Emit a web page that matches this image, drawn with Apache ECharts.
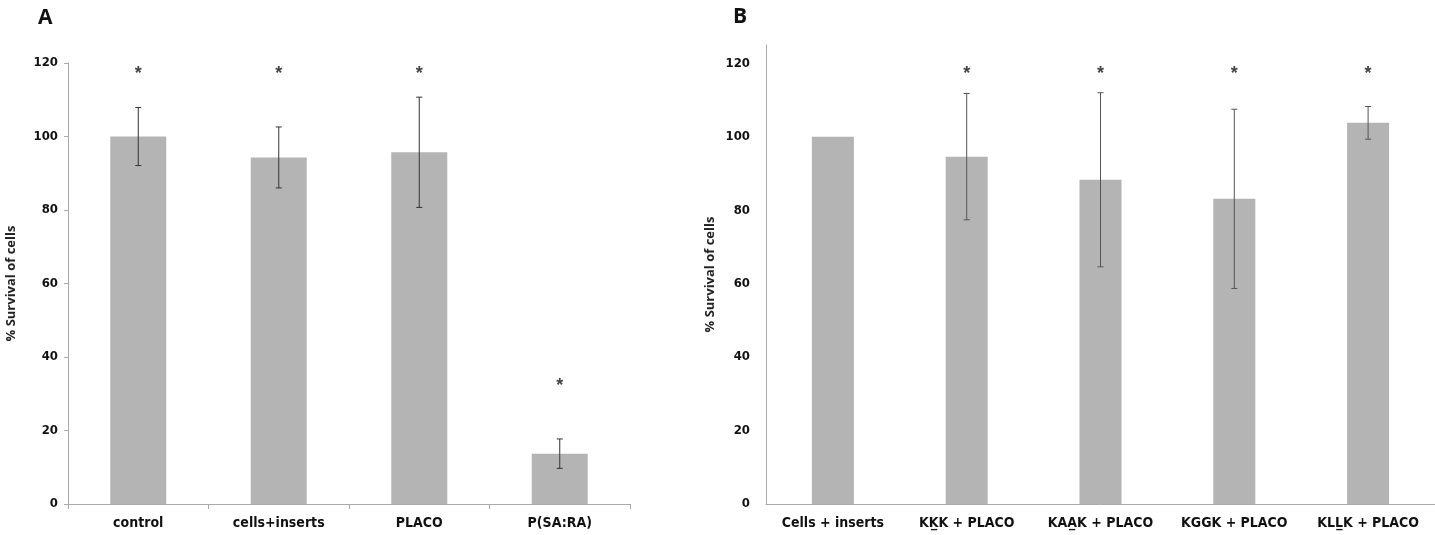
<!DOCTYPE html>
<html>
<head>
<meta charset="utf-8">
<script src="https://cdn.jsdelivr.net/npm/echarts@6/dist/echarts.min.js"></script>
<style>
  html, body { margin: 0; padding: 0; background: #fff; }
  #main { width: 1435px; height: 535px; }
</style>
</head>
<body>
<div id="main"></div>
<script>
// panel A
var catsA = ["control", "cells+inserts", "PLACO", "P(SA:RA)"];
var meanA = [100, 94.3, 95.7, 13.7];
var errA = [7.9, 8.3, 15, 4];
var starA = [117, 117, 117, 32];

// panel B
var catsB = ["Cells + inserts", "KK\u0332K + PLACO", "KAA\u0332K + PLACO", "KGGK + PLACO", "KLL\u0332K + PLACO"];
var meanB = [100, 94.6, 88.3, 83.1, 103.8];
var errB = [null, 17.2, 23.7, 24.4, 4.45];
var starB = [null, 117, 117, 117, 117];

var yTicks = [0, 20, 40, 60, 80, 100, 120];

var labelFont = "'Liberation Sans Narrow', 'DejaVu Sans Condensed', sans-serif";

// 误差线数据 [index, low, high]
function errData(mean, err) {
  var out = [];
  mean.forEach(function(m, i) {
    if (err[i] != null) out.push([i, m - err[i], m + err[i]]);
  });
  return out;
}
function starData(stars) {
  var out = [];
  stars.forEach(function(s, i) {
    if (s != null) out.push([i, s]);
  });
  return out;
}

function errRender(color) {
  return function(params, api) {
    var lo = api.coord([api.value(0), api.value(1)]);
    var hi = api.coord([api.value(0), api.value(2)]);
    var cap = 3;
    var st = { stroke: color, lineWidth: 1 };
    return {
      type: "group",
      children: [
        { type: "line", shape: { x1: lo[0], y1: lo[1], x2: hi[0], y2: hi[1] }, style: st },
        { type: "line", shape: { x1: lo[0] - cap, y1: lo[1], x2: lo[0] + cap, y2: lo[1] }, style: st },
        { type: "line", shape: { x1: hi[0] - cap, y1: hi[1], x2: hi[0] + cap, y2: hi[1] }, style: st }
      ]
    };
  };
}

var myChart = echarts.init(document.getElementById("main"));

var yName = "% Survival of cells";
var nameStyle = { fontSize: 13, fontWeight: "bold", color: "#222", fontFamily: "'Open Sans', sans-serif" };
var starLabel = { show: true, position: "inside", formatter: "*", fontSize: 18, fontWeight: "bold", color: "#111" };

var option = {
  animation: false,
  title: [
    { text: "A", left: 33, top: 3, textStyle: { fontSize: 21, fontWeight: "bold", color: "#111", fontFamily: "'Open Sans', sans-serif" } },
    { text: "B", left: 728, top: 2, textStyle: { fontSize: 21, fontWeight: "bold", color: "#111", fontFamily: "'Open Sans', sans-serif" } }
  ],
  grid: [
    { left: 68, top: 63, width: 562, height: 441 },
    { left: 766, top: 45, width: 673, height: 459 }
  ],
  xAxis: [
    {
      gridIndex: 0,
      type: "category",
      data: catsA,
      axisLine: { lineStyle: { color: "#aaa" } },
      axisTick: { show: true, length: 5, lineStyle: { color: "#aaa" } },
      axisLabel: { interval: 0, color: "#111", fontSize: 14, fontWeight: "bold", fontFamily: labelFont, margin: 12 }
    },
    {
      gridIndex: 1,
      type: "category",
      data: catsB,
      axisLine: { lineStyle: { color: "#aaa" } },
      axisTick: { show: false },
      axisLabel: { interval: 0, color: "#111", fontSize: 14, fontWeight: "bold", fontFamily: labelFont, margin: 12 }
    }
  ],
  yAxis: [
    {
      gridIndex: 0,
      type: "value",
      min: 0,
      max: 120,
      interval: 20,
      name: yName,
      nameLocation: "middle",
      nameGap: 50,
      nameTextStyle: nameStyle,
      axisLine: { show: true, lineStyle: { color: "#aaa" } },
      axisTick: { show: true, length: 4, lineStyle: { color: "#aaa" } },
      splitLine: { show: false },
      axisLabel: { color: "#111", fontSize: 13, fontWeight: "bold", fontFamily: labelFont, margin: 10 }
    },
    {
      gridIndex: 1,
      type: "value",
      min: 0,
      max: 125,
      interval: 20,
      name: yName,
      nameLocation: "middle",
      nameGap: 49,
      nameTextStyle: nameStyle,
      axisLine: { show: true, lineStyle: { color: "#aaa" } },
      axisTick: { show: false },
      splitLine: { show: false },
      axisLabel: {
        color: "#111", fontSize: 13, fontWeight: "bold", fontFamily: labelFont, margin: 16,
        formatter: function(v) { return yTicks.indexOf(v) >= 0 ? String(v) : ""; }
      }
    }
  ],
  series: [
    {
      type: "bar",
      xAxisIndex: 0,
      yAxisIndex: 0,
      data: meanA,
      barWidth: 56,
      itemStyle: { color: "#b4b4b4" }
    },
    {
      type: "custom",
      xAxisIndex: 0,
      yAxisIndex: 0,
      data: errData(meanA, errA),
      renderItem: errRender("#333"),
      z: 5
    },
    {
      type: "scatter",
      xAxisIndex: 0,
      yAxisIndex: 0,
      data: starData(starA),
      symbolSize: 1,
      itemStyle: { color: "rgba(0,0,0,0)" },
      label: starLabel
    },
    {
      type: "bar",
      xAxisIndex: 1,
      yAxisIndex: 1,
      data: meanB,
      barWidth: 42,
      itemStyle: { color: "#b4b4b4" }
    },
    {
      type: "custom",
      xAxisIndex: 1,
      yAxisIndex: 1,
      data: errData(meanB, errB),
      renderItem: errRender("#555"),
      z: 5
    },
    {
      type: "scatter",
      xAxisIndex: 1,
      yAxisIndex: 1,
      data: starData(starB),
      symbolSize: 1,
      itemStyle: { color: "rgba(0,0,0,0)" },
      label: starLabel
    }
  ]
};

myChart.setOption(option);
</script>
</body>
</html>
